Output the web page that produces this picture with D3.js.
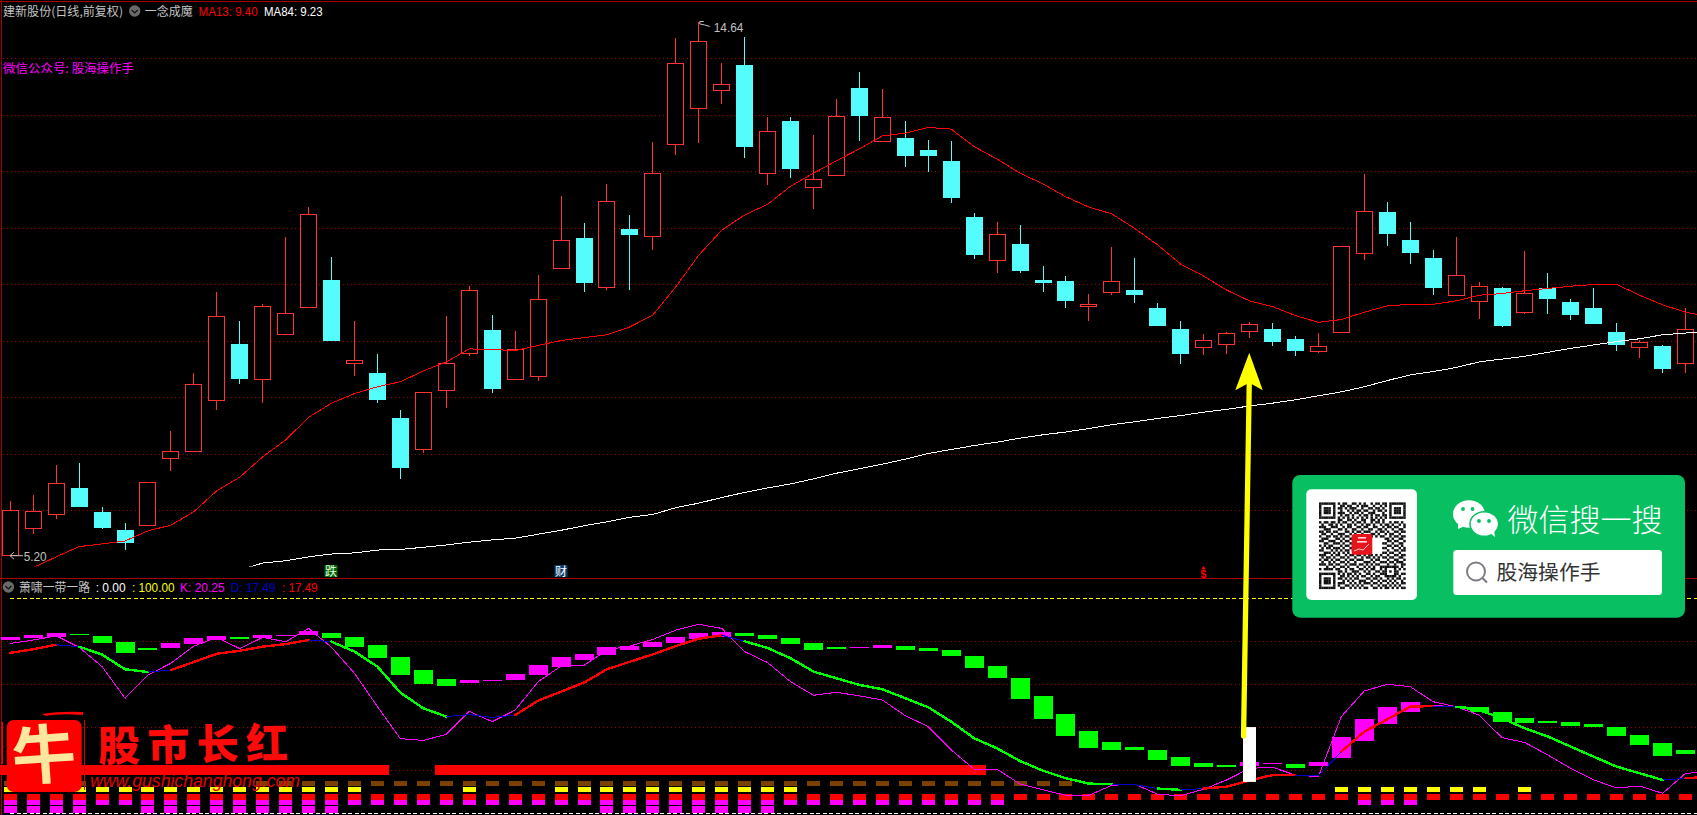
<!DOCTYPE html>
<html><head><meta charset="utf-8"><title>建新股份</title>
<script src="https://cdn.jsdelivr.net/npm/d3@7/dist/d3.min.js"></script>
<style>html,body{margin:0;padding:0;background:#000;overflow:hidden}svg{display:block}text{white-space:pre}</style>
</head><body><svg id="c" width="1697" height="815"></svg>
<script>
// ---------- price pane data ----------
const open=[5.20,5.68,5.93,6.40,5.97,5.65,5.73,6.92,7.04,7.94,8.95,8.32,9.11,9.59,10.08,8.60,8.43,7.64,7.08,8.12,8.78,9.19,8.31,8.37,10.28,10.82,9.94,10.98,10.85,12.47,13.11,13.43,13.88,11.96,12.89,11.71,11.93,13.48,12.53,12.59,12.38,12.19,11.19,10.42,10.72,10.08,10.06,9.61,9.85,9.90,9.58,9.21,8.88,8.93,9.16,9.21,9.04,8.81,9.15,10.55,11.28,10.79,10.47,9.80,9.70,9.94,9.50,9.94,9.69,9.58,9.16,8.88,8.91,8.60];
const close=[6.00,5.99,6.48,6.06,5.69,5.42,6.50,7.05,8.23,9.44,8.33,9.61,9.49,11.24,9.00,8.66,7.96,6.75,8.09,8.60,9.90,8.15,8.85,9.74,10.78,10.03,11.47,10.88,11.97,13.92,14.30,13.54,12.43,12.71,12.04,11.86,12.98,12.98,12.96,12.27,12.27,11.53,10.52,10.89,10.24,10.03,9.70,9.65,10.06,9.82,9.27,8.77,9.01,9.14,9.30,8.98,8.82,8.91,10.68,11.30,10.89,10.56,9.94,10.16,9.97,9.27,9.84,9.74,9.46,9.30,8.93,8.98,8.50,9.21];
const high=[6.17,6.27,6.80,6.84,6.06,5.78,6.50,7.41,8.43,9.87,9.35,9.65,10.84,11.37,10.49,9.35,8.77,7.78,8.09,9.44,9.97,9.46,9.18,10.17,11.57,11.09,11.78,11.23,12.52,14.36,14.64,13.92,14.38,12.96,12.96,12.65,13.28,13.76,13.46,12.89,12.56,12.54,11.27,11.11,11.05,10.33,10.15,9.83,10.66,10.47,9.67,9.35,9.12,9.16,9.34,9.32,9.09,9.14,10.68,11.96,11.46,11.11,10.61,10.84,10.04,9.96,10.59,10.20,9.74,9.94,9.32,9.02,8.93,9.58];
const low=[5.20,5.58,5.85,6.06,5.67,5.30,5.73,6.70,7.04,7.78,8.24,7.90,9.11,9.59,9.00,8.38,7.90,6.56,7.02,7.81,8.73,8.08,8.31,8.29,10.28,9.87,9.90,9.90,10.61,12.29,12.50,13.19,12.24,11.76,11.88,11.34,11.93,12.54,12.53,12.08,11.99,11.44,10.45,10.20,10.20,9.87,9.59,9.36,9.82,9.67,9.27,8.59,8.75,8.77,9.05,8.91,8.73,8.79,9.15,10.43,10.68,10.36,9.81,9.80,9.39,9.25,9.48,9.48,9.37,9.30,8.82,8.70,8.43,8.43];
const ma13=[null,4.99,5.18,5.36,5.41,5.46,5.64,5.74,5.98,6.35,6.59,6.95,7.25,7.65,7.90,8.07,8.19,8.28,8.47,8.63,8.86,8.85,8.83,8.92,9.01,9.06,9.11,9.25,9.46,9.96,10.52,10.96,11.23,11.42,11.74,11.97,12.19,12.40,12.63,12.68,12.78,12.75,12.44,12.22,11.97,11.78,11.55,11.37,11.25,10.99,10.70,10.36,10.15,9.90,9.71,9.61,9.45,9.33,9.38,9.51,9.62,9.65,9.65,9.71,9.81,9.84,9.89,9.93,9.97,10.00,10.00,9.81,9.64,9.51,9.43];
const ma84=[null,null,null,null,null,null,null,null,null,null,4.95,5.07,5.11,5.18,5.23,5.25,5.30,5.31,5.35,5.39,5.44,5.48,5.51,5.58,5.65,5.73,5.80,5.88,5.93,6.05,6.13,6.23,6.32,6.40,6.47,6.56,6.66,6.74,6.82,6.91,7.01,7.08,7.15,7.21,7.28,7.34,7.39,7.45,7.52,7.57,7.63,7.68,7.74,7.79,7.85,7.90,7.96,8.03,8.10,8.19,8.30,8.40,8.46,8.53,8.63,8.68,8.73,8.80,8.87,8.93,8.99,9.04,9.11,9.14,9.18];
const priceGrid=[6,7,8,9,10,11,12,13,14];
// ---------- indicator pane data ----------
const kdjOpen=[80.4,81.4,82.1,83.4,82.5,79.7,76.9,76.9,78.7,80.6,82.0,81.4,82.5,82.8,83.9,82.0,78.3,72.7,66.6,62.5,60.6,61.5,62.0,64.3,68.0,71.3,73.6,76.0,77.3,79.2,81.1,82.0,83.9,82.9,81.5,79.2,77.3,77.0,76.9,77.8,76.9,76.0,73.2,68.5,62.9,54.6,46.2,38.3,33.2,30.8,29.5,26.2,23.4,22.5,22.0,22.9,22.9,22.0,25.7,33.6,41.5,47.1,49.9,49.9,49.4,47.1,44.3,42.9,42.5,41.5,40.1,36.4,32.7,29.5];
const kdjClose=[82.0,82.9,83.9,82.9,79.2,74.6,76.0,79.2,81.5,82.5,81.1,82.9,82.9,84.8,81.5,77.3,72.2,64.3,60.1,59.2,62.0,62.0,64.8,69.0,72.7,74.1,77.3,77.8,79.7,82.0,83.9,84.3,82.5,81.1,78.7,76.0,76.4,77.3,78.3,76.0,75.5,73.2,67.6,62.9,53.2,43.9,36.0,30.4,29.5,29.5,24.8,22.0,21.5,21.5,23.9,23.4,21.1,23.9,35.5,43.9,49.4,51.8,50.4,49.4,47.1,42.5,42.0,42.0,40.6,40.1,36.0,31.8,26.7,27.6];
const kLine=[79.0,80.6,82.5,77.2,68.2,53.5,64.3,69.8,77.8,81.8,76.6,81.8,79.8,86.0,77.2,65.1,49.6,34.7,33.9,36.7,47.4,42.6,48.0,61.2,68.5,68.8,76.0,77.8,80.9,85.2,87.9,86.0,75.2,70.1,61.2,54.9,56.3,54.6,52.7,45.4,40.3,29.5,20.5,20.5,13.6,10.9,8.4,8.4,13.0,13.6,8.8,8.2,11.2,15.5,20.9,21.4,17.8,17.0,45.0,56.9,60.0,58.9,51.9,49.6,45.7,35.2,32.9,27.1,20.9,15.5,11.8,12.7,9.3,18.6,19.2];
const dLine=[74.6,76.3,78.4,77.5,73.8,67.0,65.7,66.6,70.4,74.2,75.6,77.5,78.7,80.6,79.8,75.2,68.2,56.1,48.8,45.0,45.9,44.6,45.7,52.4,56.6,60.8,67.0,70.5,73.9,77.8,81.2,82.8,80.0,76.9,72.1,65.9,62.8,59.7,57.7,53.5,49.3,42.6,34.9,30.2,24.3,19.8,16.3,13.8,13.6,13.3,11.5,10.9,11.5,12.4,15.2,17.8,17.8,17.4,28.7,38.0,43.7,49.6,49.9,49.6,48.0,44.2,39.5,35.7,31.0,26.3,21.7,18.6,15.5,16.3,17.0];
const dState=("rrbgggb"+"rrrrrr"+"b"+"ggggg"+"bbb"+"rrrrrrrrr"+"b"+"gggggggggggggggg"+"bb"+"g"+"b"+"rrrr"+"bb"+"rrrr"+"b"+"ggggggggg"+"b"+"r").split("");
const kdjGrid=[20,40,60,80];
// signal rows: bar ranges that are lit
const bandSpans=[[0,16],[19,42]];
const brownSpans=[[0,3],[11,46]];
const yellowSpans=[[0,15],[20,20],[24,34],[58,64],[66,66]];
const redSpans=[[0,73]];
const magentaSpans=[[0,43],[59,61]];
const tallSpans=[[0,3],[6,14],[26,33]];
const rowBand=[22.5,18.0],rowBrown=[15.0,12.7],rowYellow=[12.2,9.7],rowRed=[9.2,6.4],rowMagenta=[6.2,3.9],rowTall=[3.2,0.1];
const whiteBar={i:54,top:40.1,bottom:14.6};
const signals=[{i:14,t:"跌",bg:"#006400",fg:"#e8ffe8"},{i:24,t:"财",bg:"#0a3a6a",fg:"#ffffff"}];
const qrRows=["1111111010110011010100101101101111111","1000001001101100101110010010101000001","1011101011010111001001101101001011101","1011101001001010110110010110101011101","1011101011100101101001110001001011101","1000001001011010010110101101101000001","1111111010101010101010101010101111111","0000000011001101001100110101000000000","1011011010110010110100101101001011010","0100110101001101001011010010110100101","1110011100101100110110011001011011001","0011100011010011001001100110100100110","1101101100011010110111001011010011011","0110010011100101001000110100101100100","1001101101011001110110101011001011011","0111000110100110001000000000110100110","1100111001011001100000000000011011001","0011001110100101000000000001100100110","1010110001011010000000000000011011010","0101101110100100000000000001100100101","1100010101011011000000000000010011011","0011101010101001100000000001101100100","1110010110010110110101101010010011011","0101101001101001001011010101101100110","1011010110010110111000101100010011001","0100101001101001000111010011101101110","1110110110010111011010101100010010011","0001001001101000100101010011111111010","1011110110010110011010110010100010101","0000000011010011100101001101101011000","1111111010101101010011010011100011011","1000001001101010101100101100111110100","1011101011010101100011011010010101101","1011101000101010011100100101101010010","1011101011100101010111011010010101011","1000001010011010101000100101101010100","1111111001100101010110011010110101011"];

// ---------- scales ----------
const W=1697,H=815;
const svg=d3.select("#c");
const x=d3.scaleLinear().domain([0,73]).range([10.3,1685.6]);
const y=d3.scaleLinear().domain([6,14]).range([510.5,58.5]);
const v=d3.scaleLinear().domain([0,100]).range([813.3,598.3]);
const cx=i=>Math.round(x(i)-0.5)+0.5;
const snap=p=>Math.round(p-0.5)+0.5;
const range=s=>s.flatMap(([a,b])=>d3.range(a,b+1));

svg.append("defs").append("clipPath").attr("id","main").append("rect").attr("x",0).attr("y",0).attr("width",W).attr("height",566.5);
svg.append("rect").attr("width",W).attr("height",H).attr("fill","#000");

// grids through axes
function grid(scale,vals,color){
  const g=svg.append("g").call(d3.axisRight(scale).tickValues(vals).tickSize(W-3).tickFormat("").offset(0)).attr("transform","translate(3,0)");
  g.select(".domain").remove();
  g.selectAll("line").attr("stroke",color).attr("stroke-dasharray","1 3").attr("shape-rendering","crispEdges");
}
grid(y,priceGrid,"#a00000");
grid(v,kdjGrid,"#a00000");
// frame
const frame=svg.append("g").attr("stroke","#a80000").attr("shape-rendering","crispEdges");
frame.append("line").attr("x1",0).attr("x2",W).attr("y1",1.5).attr("y2",1.5);
frame.append("line").attr("x1",0).attr("x2",W).attr("y1",578.5).attr("y2",578.5);
frame.append("line").attr("x1",1).attr("x2",1).attr("y1",0).attr("y2",H);
// 100 / 0 dashed lines
[[100,"#ffff00"],[0,"#ffffff"]].forEach(([val,c])=>{
  svg.append("line").attr("x1",10).attr("x2",W).attr("y1",snap(v(val))).attr("y2",snap(v(val))).attr("stroke",c).attr("stroke-dasharray","4 2.5").attr("shape-rendering","crispEdges");
});

// candles
const idx=d3.range(open.length);
const cg=svg.append("g").attr("clip-path","url(#main)");
cg.selectAll("line.w").data(idx).join("line").attr("class","w")
  .attr("x1",cx).attr("x2",cx).attr("y1",i=>y(high[i])).attr("y2",i=>y(low[i]))
  .attr("stroke",i=>close[i]>=open[i]?"#ff3333":"#54fcfc").attr("shape-rendering","crispEdges");
cg.selectAll("rect.b").data(idx).join("rect").attr("class","b")
  .attr("x",i=>close[i]>=open[i]?cx(i)-8:cx(i)-8.5)
  .attr("width",i=>close[i]>=open[i]?16:17)
  .attr("y",i=>close[i]>=open[i]?snap(y(close[i])):y(open[i]))
  .attr("height",i=>close[i]>=open[i]?Math.max(1,snap(y(open[i]))-snap(y(close[i]))):Math.max(1,y(close[i])-y(open[i])))
  .attr("fill",i=>close[i]>=open[i]?"#000":"#54fcfc")
  .attr("stroke",i=>close[i]>=open[i]?"#ff3333":"none").attr("shape-rendering","crispEdges");
// moving averages
const pl=d3.line().defined(d=>d!=null).x((d,i)=>x(i)).y(d=>y(d));
cg.append("path").attr("d",pl(ma13)).attr("fill","none").attr("stroke","#ff0000").attr("stroke-width",1).attr("shape-rendering","crispEdges");
cg.append("path").attr("d",pl(ma84)).attr("fill","none").attr("stroke","#ffffff").attr("stroke-width",1).attr("shape-rendering","crispEdges");

// text helper
function txt(s,px,py,color,opt={}){
  const t=svg.append("text").attr("x",px).attr("y",py).attr("fill",color).text(s)
    .attr("font-family",opt.family||'"Noto Sans CJK SC","Liberation Sans",sans-serif')
    .attr("font-size",opt.size||12);
  if(opt.w){t.attr("textLength",opt.w).attr("lengthAdjust",opt.adj||"spacingAndGlyphs");}
  if(opt.weight)t.attr("font-weight",opt.weight);
  if(opt.style)t.attr("font-style",opt.style);
  if(opt.anchor)t.attr("text-anchor",opt.anchor);
  return t;
}
const LAT='"Liberation Sans",sans-serif';
function chevron(cxp,cyp){
  svg.append("circle").attr("cx",cxp).attr("cy",cyp).attr("r",5.7).attr("fill","#6a6a6a");
  svg.append("path").attr("d",`M${cxp-3},${cyp-1}L${cxp},${cyp+2}L${cxp+3},${cyp-1}`).attr("fill","none").attr("stroke","#111").attr("stroke-width",1.2);
}
txt("建新股份(日线,前复权)",3,16,"#c4c4c4",{w:120});
chevron(134.7,11);
txt("一念成魔",144.7,16,"#c4c4c4",{w:48});
txt("MA13: 9.40",198.6,15.5,"#ff0000",{family:LAT,size:13,w:59});
txt("MA84: 9.23",264,15.5,"#ffffff",{family:LAT,size:13,w:58.6});
txt("微信公众号: 股海操作手",3,73,"#ff00ff",{w:131});
// extremes
svg.append("path").attr("d",`M${x(30)+1},24L${x(30)+1},21.5L${x(30)+5},21.5M${x(30)+1},24L${x(30)+6},25L${x(30)+11},26.5`).attr("fill","none").attr("stroke","#c0c0c0");
txt("14.64",713.8,32,"#c0c0c0",{family:LAT,size:13,w:29.5});
svg.append("path").attr("d",`M23,${y(5.2)}L10,${y(5.2)}M14,${y(5.2)-3.5}L10,${y(5.2)}L14,${y(5.2)+3.5}`).attr("fill","none").attr("stroke","#c0c0c0");
txt("5.20",23.7,561,"#c0c0c0",{family:LAT,size:13,w:23});
// signal labels
signals.forEach(s=>{
  svg.append("rect").attr("x",cx(s.i)-7).attr("y",565).attr("width",13).attr("height",12).attr("fill",s.bg);
  txt(s.t,cx(s.i)-6.5,575.5,s.fg,{size:12});
});
svg.append("path").attr("d",`M${cx(52)-2.5},569.5L${cx(52)},566L${cx(52)+2.5},569.5Z`).attr("fill","#ff0000");
txt("$",cx(52)-3,578,"#ff0000",{family:LAT,size:10.5,weight:"bold"});

// indicator header
chevron(8.4,587);
txt("萧啸一带一路",19,592,"#c4c4c4",{w:71});
txt(": 0.00",95.7,592,"#ffffff",{family:LAT,size:13,w:30});
txt(": 100.00",132,592,"#ffff00",{family:LAT,size:13,w:42.5});
txt("K: 20.25",180,592,"#ff00ff",{family:LAT,size:13,w:44.6});
txt("D: 17.49",230.8,592,"#0000c8",{family:LAT,size:13,w:44.7});
txt(": 17.49",282,592,"#ff0000",{family:LAT,size:13,w:35.6});

// signal rows
function row(spans,lv,color,w){
  svg.append("g").selectAll("rect").data(range(spans)).join("rect")
   .attr("x",i=>cx(i)-w/2).attr("width",w).attr("y",v(lv[0])).attr("height",v(lv[1])-v(lv[0]))
   .attr("fill",color).attr("shape-rendering","crispEdges");
}
row(bandSpans,rowBand,"#ff0000",23);
row(brownSpans,rowBrown,"#7a4000",13);
row(yellowSpans,rowYellow,"#ffff00",13);
row(redSpans,rowRed,"#ff0000",13);
row(magentaSpans,rowMagenta,"#ff00ff",13);
row(tallSpans,rowTall,"#ff00ff",13);

// indicator bars
svg.append("g").selectAll("rect").data(d3.range(kdjOpen.length)).join("rect")
  .attr("x",i=>cx(i)-9.5).attr("width",19)
  .attr("y",i=>v(Math.max(kdjOpen[i],kdjClose[i])))
  .attr("height",i=>Math.max(1,Math.abs(v(kdjOpen[i])-v(kdjClose[i]))))
  .attr("fill",i=>kdjClose[i]>kdjOpen[i]?"#ff00ff":"#00ff00").attr("shape-rendering","crispEdges");
// K, D lines
const vl=d3.line().x(d=>x(d[0])).y(d=>v(d[1]));
svg.append("path").attr("d",vl(kLine.map((d,i)=>[i,d]))).attr("fill","none").attr("stroke","#ff00ff").attr("stroke-width",1).attr("shape-rendering","crispEdges");
const stateColor={r:"#ff0000",g:"#00ff00",b:"#0000c8"};
svg.append("g").selectAll("path").data(dState.map((s,i)=>({s,i}))).join("path")
  .attr("d",d=>vl([[d.i,dLine[d.i]],[d.i+1,dLine[d.i+1]]]))
  .attr("fill","none").attr("stroke",d=>stateColor[d.s]).attr("stroke-width",d=>d.s==="b"?1:2.4)
  .attr("stroke-linecap","round").attr("shape-rendering","crispEdges");
// white bar + arrow
svg.append("rect").attr("x",cx(whiteBar.i)-6.5).attr("width",13).attr("y",v(whiteBar.top)).attr("height",v(whiteBar.bottom)-v(whiteBar.top)).attr("fill","#fff");
const tipX=x(whiteBar.i)-0.3,tipY=y(8.79);
svg.append("line").attr("x1",tipX).attr("y1",tipY+30).attr("x2",tipX-5.7).attr("y2",v(36)).attr("stroke","#ffff00").attr("stroke-width",5.3).attr("stroke-linecap","round");
svg.append("path").attr("d",`M${tipX},${tipY}L${tipX+13.5},${tipY+37.5}L${tipX},${tipY+30}L${tipX-14},${tipY+37.5}Z`).attr("fill","#ffff00");

// WeChat card
const card=svg.append("g");
card.append("rect").attr("x",1292.3).attr("y",475).attr("width",392.7).attr("height",142.7).attr("rx",8).attr("fill","#08bf62");
card.append("rect").attr("x",1306.3).attr("y",489.3).attr("width",110.7).attr("height",110.7).attr("rx",5).attr("fill","#fff");
const qs=86.6/qrRows.length;
qrRows.forEach((r,ry)=>r.split("").forEach((c,rx)=>{
  if(c==="1")card.append("rect").attr("x",1319+rx*qs).attr("y",502.4+ry*qs).attr("width",qs+0.1).attr("height",qs+0.1).attr("fill","#111");
}));
card.append("rect").attr("x",1351.7).attr("y",534).attr("width",20.6).attr("height",20.7).attr("rx",2.5).attr("fill","#e8141c");
card.append("path").attr("d","M1354,551L1359,549L1363,550L1369,544").attr("fill","none").attr("stroke","#fff").attr("stroke-width",.8);
card.append("rect").attr("x",1358).attr("y",537).attr("width",8).attr("height",1.6).attr("fill","#ffd8d8");
card.append("rect").attr("x",1357).attr("y",541).attr("width",10).attr("height",1.6).attr("fill","#ffd8d8");
// wechat bubbles
card.append("ellipse").attr("cx",1469).attr("cy",514).attr("rx",16).attr("ry",13.8).attr("fill","#fff");
card.append("path").attr("d","M1458,523L1458,529L1465,526Z").attr("fill","#fff");
card.append("ellipse").attr("cx",1484.3).attr("cy",524).attr("rx",14.3).attr("ry",12.3).attr("fill","#fff").attr("stroke","#08bf62").attr("stroke-width",1.5);
card.append("path").attr("d","M1490,533L1495,537L1494,530Z").attr("fill","#fff");
[[1463,509],[1472.5,509],[1479,521],[1489,521]].forEach(([a,b])=>card.append("circle").attr("cx",a).attr("cy",b).attr("r",1.9).attr("fill","#08bf62"));
txt("微信搜一搜",1507.5,530.5,"#ffffff",{size:30.5,w:155,weight:300});
card.append("rect").attr("x",1453.3).attr("y",550).attr("width",208.7).attr("height",45).attr("rx",3.5).attr("fill","#fff");
card.append("circle").attr("cx",1476).attr("cy",571.5).attr("r",9).attr("fill","none").attr("stroke","#7d7d85").attr("stroke-width",2);
card.append("line").attr("x1",1482.5).attr("y1",578).attr("x2",1487).attr("y2",582.5).attr("stroke","#7d7d85").attr("stroke-width",2.2);
txt("股海操作手",1496.5,580,"#333333",{size:20.4,w:104});

// watermark logo
const wm=svg.append("g");
wm.append("path").attr("d","M42,714Q60,711 83,712L83,715Q60,713 46,716Z").attr("fill","#ff0000");
wm.append("rect").attr("x",1.5).attr("y",722).attr("width",1.5).attr("height",42).attr("fill","#ff0000");
wm.append("rect").attr("x",84).attr("y",720).attr("width",1).attr("height",70).attr("fill","#d00000");
wm.append("rect").attr("x",6.7).attr("y",720).attr("width",75).attr("height",72).attr("rx",7).attr("fill","#ff0000");
txt("牛",12,778,"#fde79e",{size:64,weight:700}).attr("transform","rotate(-4 44 756)");
txt("股市长红",98,760,"#ff0a0a",{size:42,weight:900,w:190,adj:"spacing"}).attr("transform","rotate(-1 190 740)");
txt("www.gushichanghong.com",90,787,"#e60000",{family:LAT,size:19,style:"italic",w:210});
</script></body></html>
